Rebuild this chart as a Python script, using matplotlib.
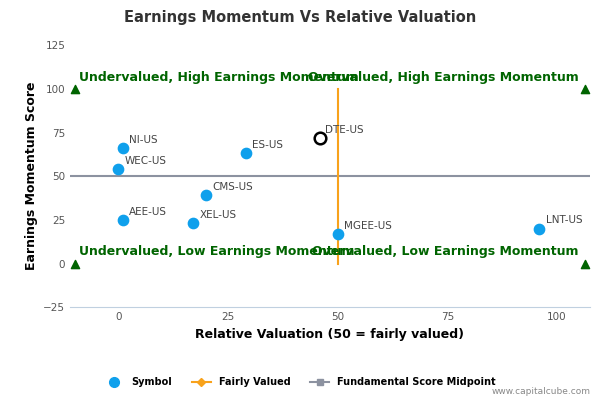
import matplotlib.pyplot as plt
from matplotlib.lines import Line2D

symbols = ['NI-US', 'WEC-US', 'AEE-US', 'XEL-US', 'CMS-US', 'ES-US', 'MGEE-US', 'LNT-US']
valuation = [1, 0, 1, 17, 20, 29, 50, 96]
momentum = [66, 54, 25, 23, 39, 63, 17, 20]
focus_name, focus_x, focus_y = 'DTE-US', 46, 72
corner_x = [-10, 106.5, -10, 106.5]
corner_y = [100, 100, 0, 0]
quadrant_labels = ['Undervalued, High Earnings Momentum', 'Overvalued, High Earnings Momentum',
                   'Undervalued, Low Earnings Momentum', 'Overvalued, Low Earnings Momentum']

fig = plt.figure(figsize=(6, 4), dpi=100)
ax = fig.add_axes([0.117, 0.232, 0.866, 0.655])
blue = '#0fa0ec'
green = '#006400'

ax.axhline(50, color='#8c92a0', lw=1.5, zorder=1)
ax.plot([50, 50], [0, 100], color='#f8a21b', lw=1.5, zorder=1)
ax.scatter(valuation, momentum, s=55, color=blue, zorder=3)
for s, x, y in zip(symbols, valuation, momentum):
    ax.text(x + 1.5, y + 3, s, fontsize=7.5, color='#444444', zorder=4)
ax.scatter([focus_x], [focus_y], s=70, facecolor='white', edgecolor='black', lw=1.8, zorder=3)
ax.text(focus_x + 1, focus_y + 3, focus_name, fontsize=7.5, color='#444444')

ax.scatter(corner_x, corner_y, marker='^', s=35, color=green, zorder=3)
ax.text(-9, 103, quadrant_labels[0], fontsize=9, fontweight='bold', color=green, va='bottom')
ax.text(105, 103, quadrant_labels[1], fontsize=9, fontweight='bold', color=green, va='bottom', ha='right')
ax.text(-9, 3, quadrant_labels[2], fontsize=9, fontweight='bold', color=green, va='bottom')
ax.text(105, 3, quadrant_labels[3], fontsize=9, fontweight='bold', color=green, va='bottom', ha='right')

ax.set_xlim(-11, 107.5)
ax.set_ylim(-25, 125)
ax.set_xticks([0, 25, 50, 75, 100])
ax.set_yticks([-25, 0, 25, 50, 75, 100, 125])
ax.tick_params(labelsize=7.5, colors='#555555', length=0)
for sp in ['top', 'right', 'left']:
    ax.spines[sp].set_visible(False)
ax.spines['bottom'].set_color('#c0d0e0')
ax.set_xlabel('Relative Valuation (50 = fairly valued)', fontsize=9, fontweight='bold')
ax.set_ylabel('Earnings Momentum Score', fontsize=9, fontweight='bold')
fig.suptitle('Earnings Momentum Vs Relative Valuation', fontsize=10.5, fontweight='bold',
             color='#333333', y=0.975)

handles = [Line2D([], [], marker='o', color=blue, ls='none', ms=7),
           Line2D([], [], marker='D', color='#f8a21b', ms=4, lw=1.5),
           Line2D([], [], marker='s', color='#8c92a0', ms=5, lw=1.5)]
fig.legend(handles, ['Symbol', 'Fairly Valued', 'Fundamental Score Midpoint'], loc='center',
           bbox_to_anchor=(0.5, 0.045), ncol=3, frameon=False,
           prop={'size': 7, 'weight': 'bold'}, handlelength=2)
fig.text(0.985, 0.01, 'www.capitalcube.com', fontsize=6.5, color='#888888', ha='right', va='bottom')
fig.savefig('out.png')
